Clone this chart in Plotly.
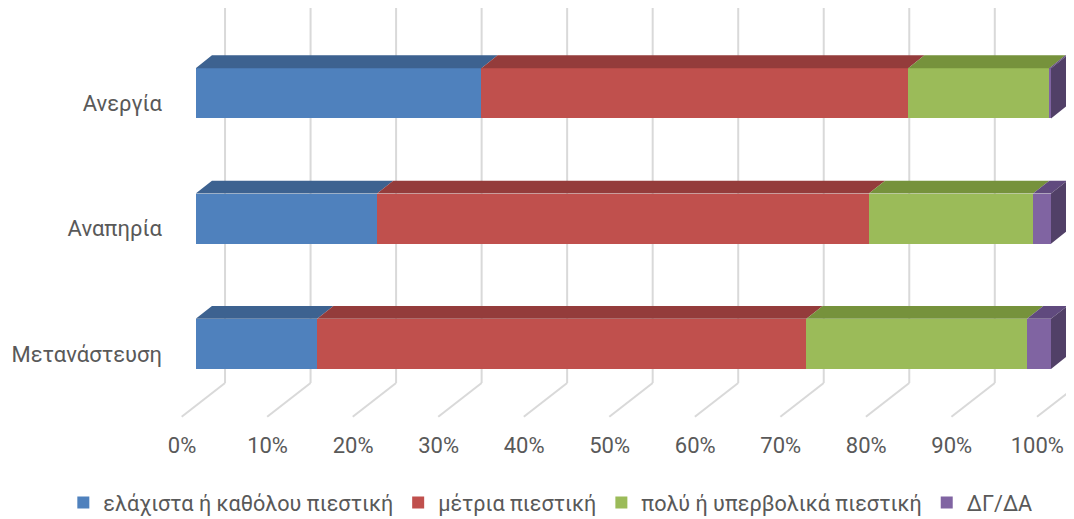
import plotly.graph_objects as go

# ---------------- data ----------------
categories = ["Ανεργία", "Αναπηρία", "Μετανάστευση"]
series_names = ["ελάχιστα ή καθόλου πιεστική", "μέτρια πιεστική",
                "πολύ ή υπερβολικά πιεστική", "ΔΓ/ΔΑ"]
least = [33.4, 21.2, 14.2]
moderate = [49.9, 57.5, 57.2]
very = [16.5, 19.2, 25.8]
dkna = [0.2, 2.1, 2.8]
tick_values = [0, 10, 20, 30, 40, 50, 60, 70, 80, 90, 100]
tick_labels = ["0%", "10%", "20%", "30%", "40%", "50%", "60%", "70%", "80%", "90%", "100%"]

# ---------------- style ----------------
front_colors = ["#4f81bd", "#c0504d", "#9bbb59", "#8064a2"]
top_colors = ["#3d6290", "#943c3b", "#76923c", "#604a7e"]
side_colors = ["#2f4c70", "#742e2d", "#5c722f", "#514067"]
text_color = "#595959"
grid_color = "#d9d9d9"
FONT = "Roboto"

bar_h = 0.4          # bar thickness in category units
dx, dy = 1.9, 0.103  # 3-D depth offset (x in %, y in category units)
wall_dx = 3.43       # back wall offset of gridlines
floor_dx = -1.64     # front floor edge offset
grid_top, wall_bottom, floor_front = -0.689, 2.312, 2.581
label_dx = -1.6
cat_label_dy = 0.08

series = [least, moderate, very, dkna]
ypos = list(range(len(categories)))

fig = go.Figure()

# front faces (stacked bars)
for name, vals, col in zip(series_names, series, front_colors):
    fig.add_trace(go.Bar(
        y=ypos, x=vals, name=name, orientation="h", width=bar_h,
        marker=dict(color=col, line=dict(width=0)),
        hoverinfo="x+name"))

# top faces and side faces
for j, (vals, tcol) in enumerate(zip(series, top_colors)):
    xs, ys = [], []
    for i in ypos:
        x0 = sum(series[k][i] for k in range(j))
        x1 = x0 + vals[i]
        yt = i - bar_h / 2
        xs += [x0, x1, x1 + dx, x0 + dx, x0, None]
        ys += [yt, yt, yt - dy, yt - dy, yt, None]
    fig.add_trace(go.Scatter(x=xs, y=ys, mode="lines", fill="toself",
                             fillcolor=tcol, line=dict(width=0),
                             showlegend=False, hoverinfo="skip"))

for i in ypos:
    total = sum(s[i] for s in series)
    last = max(k for k in range(len(series)) if series[k][i] > 0)
    yt, yb = i - bar_h / 2, i + bar_h / 2
    fig.add_trace(go.Scatter(
        x=[total, total + dx, total + dx, total, total],
        y=[yt, yt - dy, yb - dy, yb, yt],
        mode="lines", fill="toself", fillcolor=side_colors[last],
        line=dict(width=0), showlegend=False, hoverinfo="skip"))

# gridlines (back wall + floor), behind the bars
shapes = []
for v in tick_values:
    shapes.append(dict(type="line", xref="x", yref="y", layer="below",
                       x0=v + wall_dx, x1=v + wall_dx, y0=grid_top, y1=wall_bottom,
                       line=dict(color=grid_color, width=2)))
    shapes.append(dict(type="line", xref="x", yref="y", layer="below",
                       x0=v + wall_dx, x1=v + floor_dx, y0=wall_bottom, y1=floor_front,
                       line=dict(color=grid_color, width=2)))

# the page body has an 8px margin, so the figure is 8px smaller on each side
fig.update_layout(
    width=1066, height=511,
    margin=dict(l=162, r=0, t=0, b=89, autoexpand=False),
    paper_bgcolor="white", plot_bgcolor="white",
    barmode="stack", bargap=0,
    shapes=shapes,
    font=dict(family=FONT, color=text_color, size=22),
    xaxis=dict(range=[-3.005, 102.69], showgrid=False, zeroline=False,
               showline=False, ticks="", automargin=False,
               tickvals=[v + label_dx for v in tick_values], ticktext=tick_labels,
               tickfont=dict(family=FONT, size=22, color=text_color)),
    yaxis=dict(range=[2.687, -0.681], showgrid=False, zeroline=False,
               showline=False, ticks="", automargin=False, ticklabelstandoff=7,
               tickvals=[i + cat_label_dy for i in ypos], ticktext=categories,
               tickfont=dict(family=FONT, size=22, color=text_color)),
    legend=dict(orientation="h", xref="paper", yref="paper",
                x=-0.118, xanchor="left", y=-0.173, yanchor="middle",
                traceorder="normal", font=dict(family=FONT, size=21.6, color=text_color)),
    showlegend=True,
)

fig.write_html("out.html")
